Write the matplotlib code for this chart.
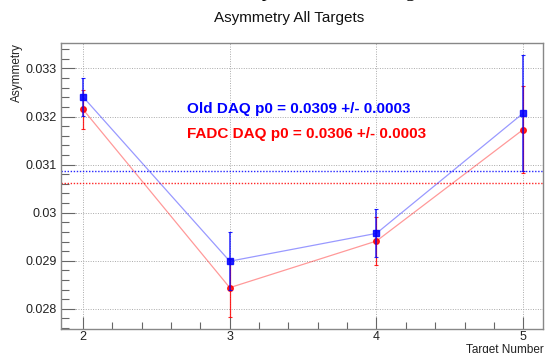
import matplotlib
matplotlib.use("Agg")
import matplotlib.pyplot as plt
from matplotlib.ticker import MultipleLocator, FormatStrFormatter

plt.rcParams['font.family'] = ['Liberation Sans', 'DejaVu Sans']

# Per-target asymmetry measurements
targets = [2, 3, 4, 5]
old_daq_asym = [0.03241, 0.02899, 0.02957, 0.03207]
old_daq_err = [0.0004, 0.0006, 0.0005, 0.0012]
fadc_daq_asym = [0.03215, 0.02844, 0.02941, 0.03173]
fadc_daq_err = [0.0004, 0.0006, 0.0005, 0.0009]

# Constant (p0) fit results
old_p0, old_p0_err = 0.03086, 0.0003
fadc_p0, fadc_p0_err = 0.03061, 0.0003

title = "Asymmetry All Targets"
x_label = "Target Number"
y_label = "Asymmetry"
caption_line = "ss Cut was set as the base with the plots for all the targets."

W, H = 545, 353
fig = plt.figure(figsize=(W / 100, H / 100), dpi=100)
ax = fig.add_axes([61 / W, 1 - 329 / H, (543 - 61) / W, (329 - 43) / H])

blue = "#0000ff"
red = "#ff0000"

# connecting lines
ax.plot(targets, old_daq_asym, color=blue, alpha=0.4, lw=0.9, zorder=3)
ax.plot(targets, fadc_daq_asym, color=red, alpha=0.4, lw=0.9, zorder=3)

# measurements with error bars
ax.errorbar(targets, fadc_daq_asym, yerr=fadc_daq_err, fmt='o', color=red,
            ms=4, elinewidth=0.9, capsize=1.5, capthick=0.8, alpha=0.85, zorder=4)
ax.errorbar(targets, old_daq_asym, yerr=old_daq_err, fmt='s', color=blue,
            ms=4, elinewidth=1.1, capsize=1.5, capthick=0.8, alpha=0.85, zorder=5)

# constant fits
ax.axhline(old_p0, color=blue, ls=(0, (1, 1.2)), lw=1.0, alpha=0.85, zorder=2)
ax.axhline(fadc_p0, color=red, ls=(0, (1, 1.2)), lw=1.0, alpha=0.85, zorder=2)

ax.text(187 / W, 1 - 109 / H, f"Old DAQ p0 = {old_p0:.4f} +/- {old_p0_err:.4f}",
        transform=fig.transFigure, color=blue, fontsize=11, fontweight='bold',
        ha='left', va='center')
ax.text(187 / W, 1 - 134 / H, f"FADC DAQ p0 = {fadc_p0:.4f} +/- {fadc_p0_err:.4f}",
        transform=fig.transFigure, color=red, fontsize=11, fontweight='bold',
        ha='left', va='center')

ax.set_xlim(1.85, 5.135)
ax.set_ylim(0.02758, 0.03353)

ax.xaxis.set_major_locator(MultipleLocator(1))
ax.xaxis.set_minor_locator(MultipleLocator(0.2))
ax.yaxis.set_major_locator(MultipleLocator(0.001))
ax.yaxis.set_minor_locator(MultipleLocator(0.0002))
ax.xaxis.set_major_formatter(FormatStrFormatter('%g'))
ax.yaxis.set_major_formatter(FormatStrFormatter('%g'))

ax.tick_params(axis='both', which='both', direction='in', top=False, right=False,
               colors='#666666', labelcolor='#222222', labelsize=9, width=0.8)
ax.tick_params(axis='y', which='major', length=10, pad=3)
ax.tick_params(axis='y', which='minor', length=6)
ax.tick_params(axis='x', which='major', length=9, pad=1.5)
ax.tick_params(axis='x', which='minor', length=5)

ax.grid(True, which='major', color='#aaaaaa', ls=(0, (1, 1.5)), lw=0.7)
ax.set_axisbelow(True)
for s in ax.spines.values():
    s.set_color('#888888')
    s.set_linewidth(1.0)

fig.text(289 / W, 1 - 18 / H, title, ha='center', va='center', fontsize=11,
         color='#111111')
fig.text(17 / W, 1 - 43 / H, y_label, rotation=90, ha='center', va='top',
         fontsize=8.5, color='#222222')
fig.text(544 / W, 1 - 344.5 / H, x_label, ha='right', va='top',
         fontsize=8.5, color='#222222')
fig.text(442 / W, 1 + 3.5 / H, caption_line, ha='right', va='baseline',
         fontsize=14, family='Liberation Serif', color='black')

fig.savefig("out.png", dpi=100)
